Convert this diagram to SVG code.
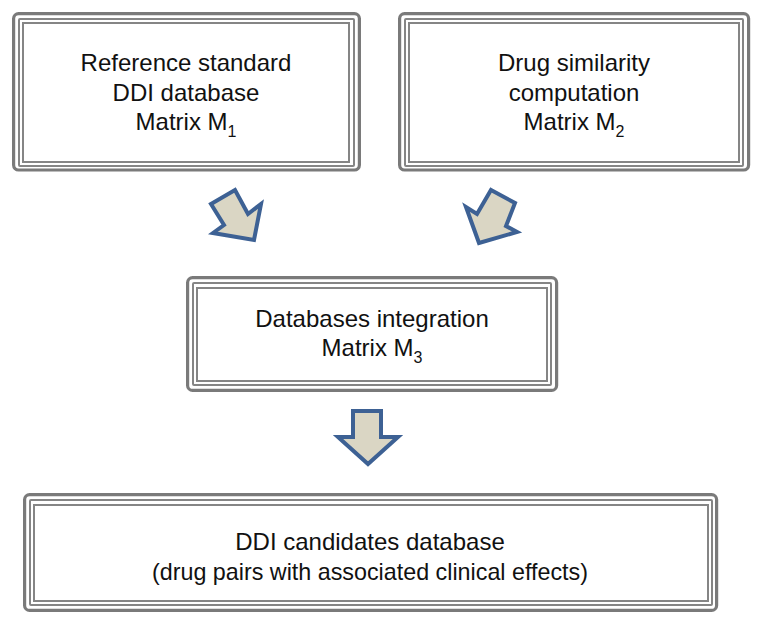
<svg xmlns="http://www.w3.org/2000/svg" width="764" height="624" viewBox="0 0 764 624">
<defs>
<style>
.o{fill:none;stroke:#7a7a7a;stroke-width:3.2}
.m{fill:none;stroke:#858585;stroke-width:2}
.i{fill:none;stroke:#858585;stroke-width:2}
.t{font-family:"Liberation Sans",Arial,sans-serif;font-size:24px;fill:#111;text-anchor:middle}
.s{font-size:16px}
.a{fill:#dad6c4;stroke:#3d6194;stroke-width:4;stroke-linejoin:miter}
</style>
</defs>
<rect width="764" height="624" fill="#fff"/>
<g id="box1">
<rect class="o" x="13.6" y="13.6" width="345.8" height="156.4" rx="5"/>
<rect class="m" x="19" y="19" width="335" height="147" rx="1"/>
<rect class="i" x="23" y="23" width="326" height="139"/>
<text class="t" x="186" y="71">Reference standard</text>
<text class="t" x="186" y="101">DDI database</text>
<text class="t" x="186" y="130">Matrix M<tspan class="s" dy="7">1</tspan></text>
</g>
<g id="box2">
<rect class="o" x="399.6" y="13.6" width="349" height="156.4" rx="5"/>
<rect class="m" x="405" y="19" width="338" height="147" rx="1"/>
<rect class="i" x="409" y="23" width="330" height="139"/>
<text class="t" x="574" y="71">Drug similarity</text>
<text class="t" x="574" y="101">computation</text>
<text class="t" x="574" y="130">Matrix M<tspan class="s" dy="7">2</tspan></text>
</g>
<g id="box3">
<rect class="o" x="187.6" y="277.6" width="369" height="112.8" rx="5"/>
<rect class="m" x="193" y="283" width="358" height="102" rx="1"/>
<rect class="i" x="197" y="288" width="350" height="93"/>
<text class="t" x="372" y="327">Databases integration</text>
<text class="t" x="372" y="356">Matrix M<tspan class="s" dy="7">3</tspan></text>
</g>
<g id="box4">
<rect class="o" x="24.6" y="494.6" width="692" height="115.8" rx="5"/>
<rect class="m" x="30" y="500" width="682" height="105" rx="1"/>
<rect class="i" x="34" y="505" width="674" height="96"/>
<text class="t" x="370" y="550">DDI candidates database</text>
<text class="t" x="370" y="580" textLength="436" lengthAdjust="spacingAndGlyphs">(drug pairs with associated clinical effects)</text>
</g>
<g id="connectors">
<polygon class="a" points="211,204 235,190 248,214 261,204 254,240 213,233 224,225"/>
<polygon class="a" points="491,190 515,203 506,226 517,232 479,243 466,207 477,214"/>
<polygon class="a" points="353,411 381,411 381,437 398,437 368,464 338,437 353,437"/>
</g>
</svg>
